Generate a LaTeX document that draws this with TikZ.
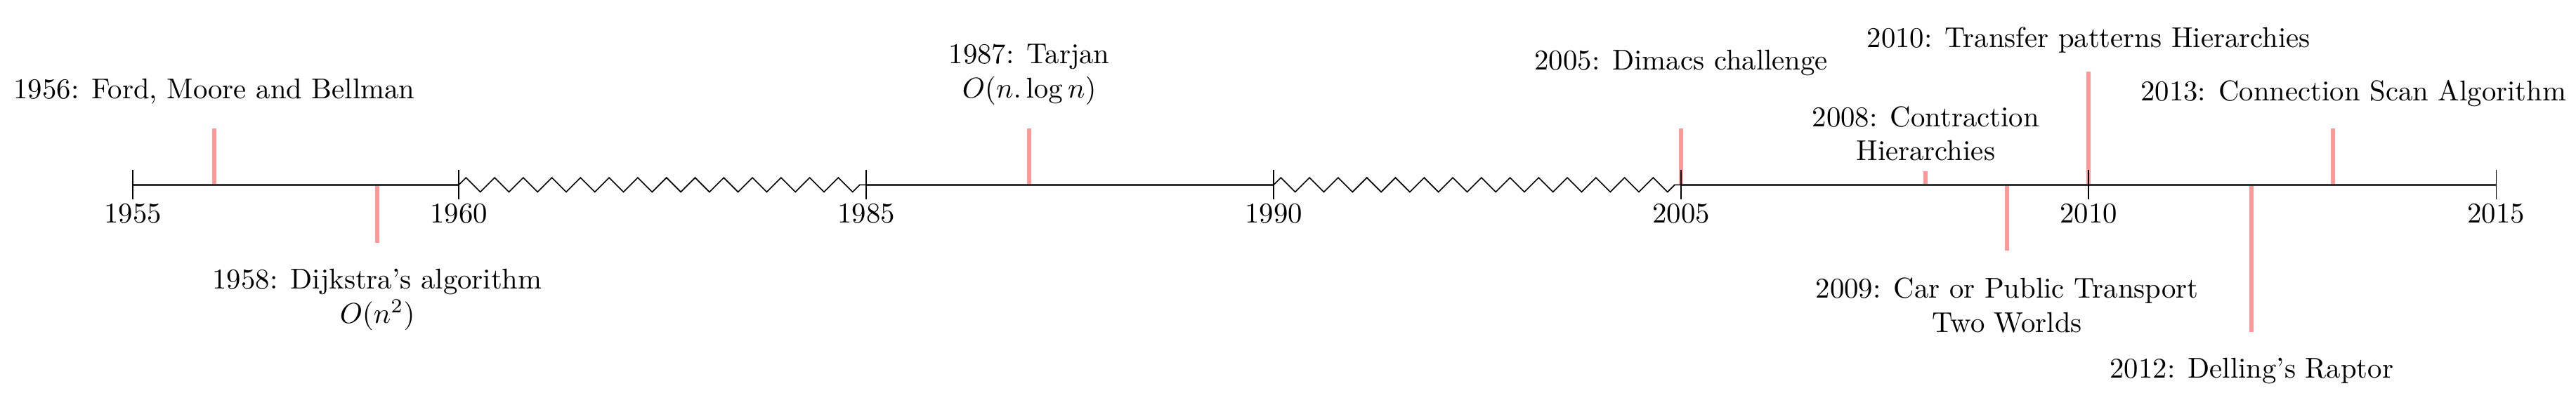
\documentclass[tikz,border=0pt]{standalone}
\usetikzlibrary{decorations.pathmorphing, positioning}

\begin{document}
\begin{tikzpicture}[
    axis/.style={semithick, draw=black!80},
    gap/.style={thin, draw=black, decorate,
                decoration={zigzag, segment length=10pt, amplitude=2.5pt}},
    tick/.style={thin, draw=black},
    event/.style={line width=1.5pt, draw=red!40},
    evlbl/.style={align=center},
]
\useasboundingbox (-1.63,-2.79) rectangle (29.98,2.27);

% year ticks on the axis
\coordinate (t1955) at (0,0);
\coordinate (t1960) at (4,0);
\coordinate (t1985) at (9,0);
\coordinate (t1990) at (14,0);
\coordinate (t2005) at (19,0);
\coordinate (t2010) at (24,0);
\coordinate (t2015) at (29,0);

% events
\coordinate (e1956) at (1,0);
\coordinate (e1958) at (3,0);
\coordinate (e1987) at (11,0);
\coordinate (e2005) at (19,0);
\coordinate (e2008) at (22,0);
\coordinate (e2009) at (23,0);
\coordinate (e2010) at (24,0);
\coordinate (e2012) at (26,0);
\coordinate (e2013) at (27,0);

\draw[event] (e1956) -- ++(0,0.69);
\draw[event] (e1958) -- ++(0,-0.71);
\draw[event] (e1987) -- ++(0,0.69);
\draw[event] (e2005) -- ++(0,0.69);
\draw[event] (e2008) -- ++(0,0.17);
\draw[event] (e2009) -- ++(0,-0.81);
\draw[event] (e2010) -- ++(0,1.39);
\draw[event] (e2012) -- ++(0,-1.81);
\draw[event] (e2013) -- ++(0,0.69);

% axis with the skipped years
\draw[axis] (t1955) -- (t1960);
\draw[gap] (t1960) -- (t1985);
\draw[axis] (t1985) -- (t1990);
\draw[gap] (t1990) -- (t2005);
\draw[axis] (t2005) -- (t2015);

\foreach \yr in {1955,1960,1985,1990,2005,2010,2015} {
  \draw[tick] ([yshift=0.18cm]t\yr) -- ([yshift=-0.18cm]t\yr);
  \node[anchor=base] (l\yr) at ([yshift=-0.47cm]t\yr) {\yr};
}

\node[anchor=base] (n1956) at ([yshift=1.06cm]e1956) {1956: Ford, Moore and Bellman};
\node[evlbl, anchor=north] (n1958) at ([yshift=-0.91cm]e1958) {1958: Dijkstra's algorithm\\$O(n^2)$};
\node[evlbl, anchor=north] (n1987) at ([yshift=1.85cm]e1987) {1987: Tarjan\\$O(n.\log n)$};
\node[anchor=base] (n2005) at ([yshift=1.41cm]e2005) {2005: Dimacs challenge};
\node[evlbl, anchor=north] (n2008) at ([yshift=1.09cm]e2008) {2008: Contraction\\Hierarchies};
\node[evlbl, anchor=north] (n2009) at ([yshift=-1.02cm]e2009) {2009: Car or Public Transport\\Two Worlds};
\node[anchor=base] (n2010) at ([yshift=1.69cm]e2010) {2010: Transfer patterns Hierarchies};
\node[anchor=base] (n2012) at ([yshift=-2.37cm]e2012) {2012: Delling's Raptor};
\node[anchor=base] (n2013) at ([xshift=0.25cm, yshift=1.03cm]e2013) {2013: Connection Scan Algorithm};
\end{tikzpicture}
\end{document}
